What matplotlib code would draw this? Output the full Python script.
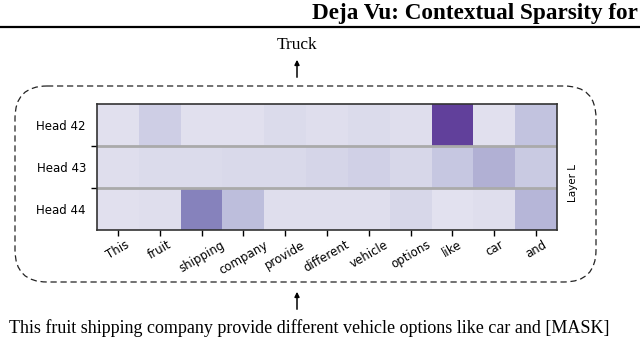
import matplotlib
matplotlib.use("Agg")
import matplotlib.pyplot as plt
import numpy as np
from matplotlib.patches import FancyBboxPatch, FancyArrowPatch

tokens = ["This", "fruit", "shipping", "company", "provide", "different",
          "vehicle", "options", "like", "car", "and"]
heads = ["Head 42", "Head 43", "Head 44"]
head42 = [0.21, 0.30, 0.21, 0.21, 0.24, 0.22, 0.24, 0.22, 0.80, 0.21, 0.35]
head43 = [0.22, 0.24, 0.24, 0.25, 0.25, 0.27, 0.29, 0.26, 0.33, 0.42, 0.32]
head44 = [0.21, 0.22, 0.60, 0.37, 0.22, 0.22, 0.22, 0.26, 0.20, 0.22, 0.40]
header = "Deja Vu: Contextual Sparsity for"
output_word = "Truck"
sentence = "This fruit shipping company provide different vehicle options like car and [MASK]"

W, H = 640, 339
fig = plt.figure(figsize=(W / 100, H / 100), dpi=100)

# overlay axes in pixel coordinates
ov = fig.add_axes([0, 0, 1, 1])
ov.set_xlim(0, W)
ov.set_ylim(H, 0)
ov.axis("off")

serif = ["Liberation Serif", "DejaVu Serif"]
ov.text(638, 19, header, fontsize=16.7, fontweight="bold", family=serif,
        ha="right", va="baseline")
ov.plot([0, W], [26.5, 26.5], color="black", lw=1.6, solid_capstyle="butt")

ov.text(297, 45, output_word, fontsize=12.5, family=serif, ha="center", va="center")
ov.add_patch(FancyArrowPatch((297, 80), (297, 57), arrowstyle="-|>",
                             mutation_scale=7, lw=1.1, color="black"))

box = FancyBboxPatch((15, 86), 581, 196,
                     boxstyle="round,pad=0,rounding_size=32",
                     fc="none", ec="#222222", lw=0.9, ls=(0, (5, 3)))
ov.add_patch(box)

ov.add_patch(FancyArrowPatch((297, 312), (297, 289), arrowstyle="-|>",
                             mutation_scale=7, lw=1.1, color="black"))
ov.text(309, 333, sentence, fontsize=13, family=serif, ha="center", va="baseline")

ov.text(573, 183, "Layer L", fontsize=7.5, rotation=90, ha="center", va="center")

# heatmap
ax = fig.add_axes([97 / W, 1 - 230 / H, 460 / W, 126 / H])
data = np.array([head42, head43, head44])
ax.imshow(data, cmap="Purples", vmin=0, vmax=1, aspect="auto",
          interpolation="nearest")
for y in [0.5, 1.5]:
    ax.axhline(y, color="#aaaaaa", lw=2)
ax.set_xticks(np.arange(len(tokens)))
ax.set_xticklabels(tokens, rotation=30, ha="center", fontsize=8.5)
ax.set_yticks(np.arange(len(heads)))
ax.set_yticklabels(heads, fontsize=8.5)
ax.tick_params(axis="y", length=0, pad=8)
ax.set_yticks([0.5, 1.5], minor=True)
ax.tick_params(axis="y", which="minor", length=4, width=1)
ax.tick_params(axis="x", length=4, width=1, pad=2)
for s in ax.spines.values():
    s.set_color("#333333")
    s.set_linewidth(1.2)

fig.savefig("out.png", dpi=100)
